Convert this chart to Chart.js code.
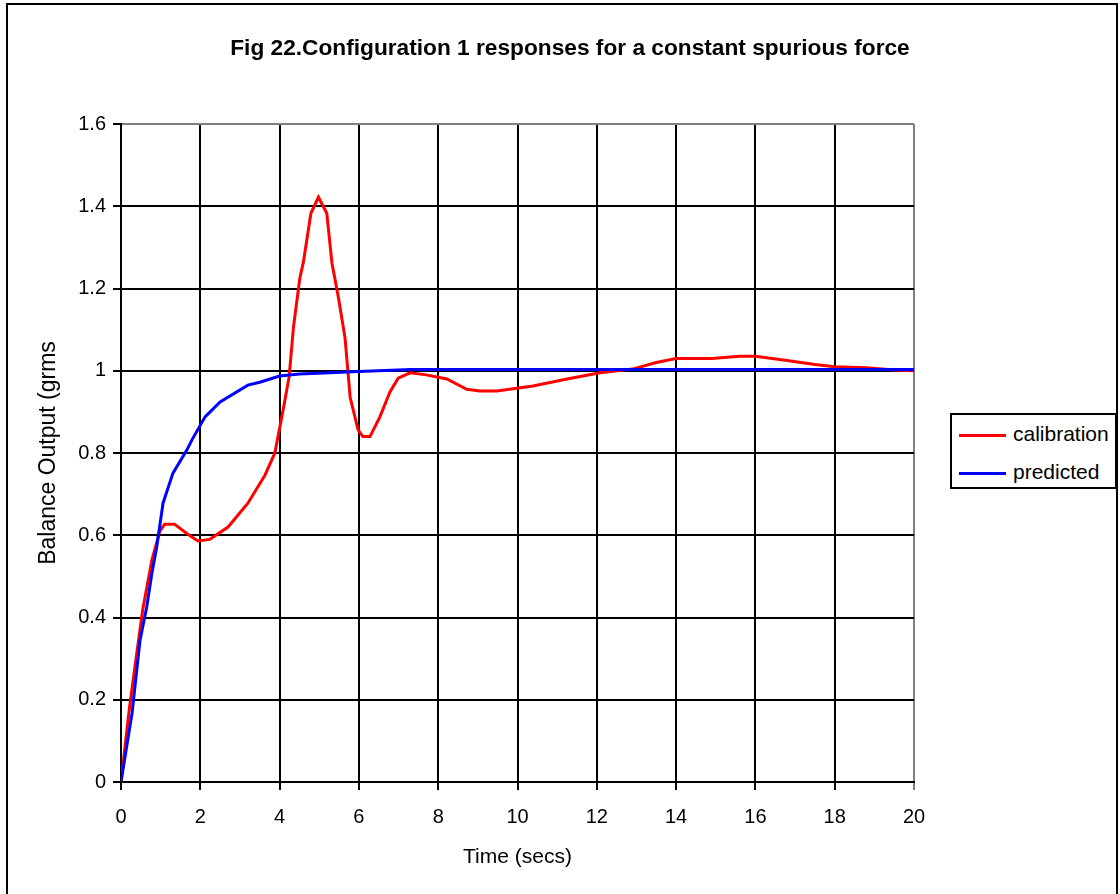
<!DOCTYPE html>
<html>
<head>
<meta charset="utf-8">
<title>Configuration 1 responses</title>
<script src="https://cdn.jsdelivr.net/npm/chart.js@4/dist/chart.umd.min.js"></script>
<style>
  html, body { margin: 0; padding: 0; background: #fff; }
  #wrap {
    position: relative; width: 1120px; height: 894px; overflow: hidden;
    font-family: "Liberation Sans", Arial, sans-serif; color: #000;
  }
  #frame {
    position: absolute; left: 6px; top: 3px; width: 1112px; height: 920px;
    border: 2px solid #000; box-sizing: border-box;
  }
  #chart { position: absolute; left: 0; top: 0; }
  #title {
    position: absolute; left: 0; top: 33px; width: 1140px; line-height: 28px;
    text-align: center; font-weight: bold; font-size: 22.7px;
  }
  #legend {
    position: absolute; left: 950px; top: 413px; width: 167px; height: 76px;
    border: 2px solid #000; box-sizing: border-box; background: #fff;
  }
  #legend .row { height: 38px; line-height: 38px; font-size: 21px; white-space: nowrap; }
  #legend .swatch {
    display: inline-block; width: 47px; height: 3px; margin: 0 7px 0 7px;
    vertical-align: middle;
  }
</style>
</head>
<body>
<div id="wrap">
  <div id="frame"></div>
  <canvas id="chart" width="1120" height="894"></canvas>
  <div id="title">Fig 22.Configuration 1 responses for a constant spurious force</div>
  <div id="legend"></div>
</div>
<script>
// Balance output vs time, calibration run and predicted response
const calibrationTime = [0, 0.2, 0.35, 0.55, 0.78, 0.98, 1.1, 1.35, 1.65, 1.94, 2.24, 2.7, 3.2, 3.63,
  3.88, 4.09, 4.24, 4.35, 4.51, 4.6, 4.79, 4.98, 5.19, 5.32, 5.48, 5.65, 5.78, 5.98, 6.1, 6.28,
  6.53, 6.78, 6.99, 7.29, 7.7, 8.22, 8.72, 9.05, 9.48, 10.39, 11.25, 12.08, 12.9, 13.5, 14.0,
  14.9, 15.6, 16.0, 16.8, 17.5, 18.0, 18.8, 19.5, 20];
const calibrationOutput = [0, 0.17, 0.28, 0.42, 0.54, 0.61, 0.627, 0.627, 0.605, 0.586, 0.59, 0.62,
  0.678, 0.746, 0.80, 0.905, 0.985, 1.106, 1.225, 1.264, 1.383, 1.422, 1.383, 1.262, 1.18, 1.08,
  0.935, 0.856, 0.84, 0.84, 0.888, 0.948, 0.982, 0.995, 0.99, 0.98, 0.955, 0.951, 0.951, 0.963,
  0.98, 0.995, 1.004, 1.02, 1.03, 1.03, 1.035, 1.035, 1.025, 1.015, 1.01, 1.007, 1.002, 1.0];

const predictedTime = [0, 0.28, 0.48, 0.65, 0.78, 0.9, 1.06, 1.31, 1.66, 1.79, 2.12, 2.5, 3.2, 3.5,
  4.0, 4.5, 5.27, 6.0, 7.3, 8, 10, 12, 14, 16, 18, 20];
const predictedOutput = [0, 0.168, 0.345, 0.426, 0.508, 0.571, 0.678, 0.751, 0.807, 0.832, 0.888,
  0.924, 0.965, 0.972, 0.987, 0.992, 0.995, 0.998, 1.003, 1.003, 1.003, 1.003, 1.003, 1.003,
  1.003, 1.003];

const timeTicks = [0, 2, 4, 6, 8, 10, 12, 14, 16, 18, 20];
const outputTicks = [0, 0.2, 0.4, 0.6, 0.8, 1, 1.2, 1.4, 1.6];
const outputTickLabels = ['0', '0.2', '0.4', '0.6', '0.8', '1', '1.2', '1.4', '1.6'];

const seriesNames = ['calibration', 'predicted'];
const seriesColors = ['#ff0000', '#0000ff'];

function toPoints(xs, ys) {
  return xs.map((x, i) => ({ x: x, y: ys[i] }));
}

const FONT = '"Liberation Sans", Arial, sans-serif';

const ctx = document.getElementById('chart').getContext('2d');
new Chart(ctx, {
  type: 'line',
  data: {
    datasets: [{
      label: seriesNames[0],
      data: toPoints(calibrationTime, calibrationOutput),
      borderColor: seriesColors[0],
      borderWidth: 3,
      pointRadius: 0,
      tension: 0,
      fill: false,
      order: 1
    }, {
      label: seriesNames[1],
      data: toPoints(predictedTime, predictedOutput),
      borderColor: seriesColors[1],
      borderWidth: 3,
      pointRadius: 0,
      tension: 0,
      fill: false,
      order: 0
    }]
  },
  options: {
    responsive: false,
    animation: false,
    layout: { padding: { left: 0, top: 124, right: 206, bottom: 0 } },
    plugins: {
      legend: { display: false },
      tooltip: { enabled: false },
      title: { display: false }
    },
    scales: {
      x: {
        type: 'linear',
        min: 0,
        max: 20,
        afterBuildTicks: axis => { axis.ticks = timeTicks.map(v => ({ value: v })); },
        afterFit: scale => { scale.height = 112; },
        ticks: {
          color: '#000',
          font: { family: FONT, size: 20 },
          padding: 15,
          maxRotation: 0,
          autoSkip: false
        },
        grid: {
          color: c => (c.tick && c.tick.value === 20) ? '#808080' : '#000',
          tickColor: c => (c.tick && c.tick.value === 20) ? '#808080' : '#000',
          lineWidth: 2,
          tickLength: 8
        },
        border: { color: '#000', width: 2 },
        title: {
          display: true,
          text: 'Time (secs)',
          color: '#000',
          font: { family: FONT, size: 21 },
          padding: { top: 0, bottom: 24 }
        }
      },
      y: {
        type: 'linear',
        min: 0,
        max: 1.6,
        afterBuildTicks: axis => { axis.ticks = outputTicks.map(v => ({ value: v })); },
        afterFit: scale => { scale.width = 121; },
        ticks: {
          color: '#000',
          font: { family: FONT, size: 20 },
          padding: 7,
          autoSkip: false,
          callback: (value, index) => outputTickLabels[index]
        },
        grid: {
          color: c => (c.tick && c.tick.value === 1.6) ? '#808080' : '#000',
          tickColor: '#000',
          lineWidth: 2,
          tickLength: 8
        },
        border: { color: '#000', width: 2 },
        title: {
          display: true,
          text: 'Balance Output (grms',
          color: '#000',
          font: { family: FONT, size: 23 },
          padding: { top: 35, bottom: 0 }
        }
      }
    }
  }
});

// Legend box built from the series names and colours
const legend = document.getElementById('legend');
seriesNames.forEach((name, i) => {
  const row = document.createElement('div');
  row.className = 'row';
  const swatch = document.createElement('span');
  swatch.className = 'swatch';
  swatch.style.background = seriesColors[i];
  row.appendChild(swatch);
  row.appendChild(document.createTextNode(name));
  legend.appendChild(row);
});
</script>
</body>
</html>
